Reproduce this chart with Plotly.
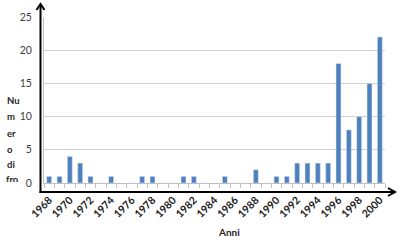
import plotly.graph_objects as go

years = list(range(1968, 2001))
counts = [1, 1, 4, 3, 1, 0, 1, 0, 0, 1, 1, 0, 0, 1, 1, 0, 0, 1, 0, 0, 2, 0,
          1, 1, 3, 3, 3, 3, 18, 8, 10, 15, 22]
tick_years = list(range(1968, 2001, 2))
y_ticks = [0, 5, 10, 15, 20, 25]
x_title = "Anni"
y_title_lines = ["Nu", "m", "er", "o", "di", "fro"]

W, H = 400, 242
L, R, T, B = 44, 15, 17, 59
PW, PH = W - L - R, H - T - B


def px(x):
    return (x - L) / PW


def py(y):
    return (H - B - y) / PH


FONT = "Lato"

fig = go.Figure(go.Bar(x=years, y=counts, marker_color="#4f81bd", width=0.48))

fig.update_layout(
    width=W, height=H,
    margin=dict(l=L, r=R, t=T, b=B, autoexpand=False),
    paper_bgcolor="white", plot_bgcolor="white",
    showlegend=False,
    font=dict(family=FONT, size=10, color="#404040"),
)
fig.update_xaxes(
    range=[1967.5, 2000.5],
    tickvals=tick_years, ticktext=[f"<b>{v}</b>" for v in tick_years],
    tickangle=-45, ticks="",
    tickfont=dict(family=FONT, size=10.5, color="#1a1a1a"),
    ticklabelstandoff=6,
    automargin=False,
    showline=True, linecolor="#bfbfbf", linewidth=1,
    showgrid=False, zeroline=False,
    minor=dict(ticks="outside", tick0=1967.5, dtick=1, ticklen=4,
               tickcolor="#bfbfbf", tickwidth=1, showgrid=False),
)
fig.update_yaxes(
    range=[0, 25], tickvals=y_ticks,
    ticks="", ticklabelstandoff=9,
    automargin=False,
    tickfont=dict(family=FONT, size=10.5, color="#404040"),
    showline=True, linecolor="#bfbfbf", linewidth=1,
    showgrid=True, gridcolor="#d0d0d0", gridwidth=1, zeroline=False,
)

black = dict(color="black", width=2)
# x axis black line with chevron arrow
fig.add_shape(type="line", xref="paper", yref="paper",
              x0=px(39.5), y0=py(192), x1=px(395), y1=py(192), line=black)
fig.add_shape(type="path", xref="paper", yref="paper",
              path=f"M {px(388)} {py(188)} L {px(395)} {py(192)} L {px(388)} {py(196)}",
              line=black)
# y axis black line with chevron arrow
fig.add_shape(type="line", xref="paper", yref="paper",
              x0=px(40.5), y0=py(193), x1=px(40.5), y1=py(4), line=black)
fig.add_shape(type="path", xref="paper", yref="paper",
              path=f"M {px(36.5)} {py(10)} L {px(40.5)} {py(4)} L {px(44.5)} {py(10)}",
              line=black)

fig.add_annotation(text=f"<b>{x_title}</b>", xref="paper", yref="paper",
                   x=px(229), y=py(232), xanchor="center", yanchor="middle",
                   showarrow=False,
                   font=dict(family=FONT, size=10, color="#262626"))

line_y = [100, 117, 133, 149, 164]
for t, yy in zip(y_title_lines[:-1], line_y):
    fig.add_annotation(text=f"<b>{t}</b>", xref="paper", yref="paper",
                       x=px(5), y=py(yy), xanchor="left", yanchor="middle",
                       showarrow=False,
                       font=dict(family=FONT, size=9.5, color="#262626"))
# last line is cut at the bottom in the reference
fig.add_annotation(text=f"<b>{y_title_lines[-1]}</b>", xref="paper", yref="paper",
                   x=px(5), y=py(173), xanchor="left", yanchor="top",
                   height=8, valign="top", borderpad=0,
                   showarrow=False,
                   font=dict(family=FONT, size=9.5, color="#262626"))

fig.write_html("out.html")
